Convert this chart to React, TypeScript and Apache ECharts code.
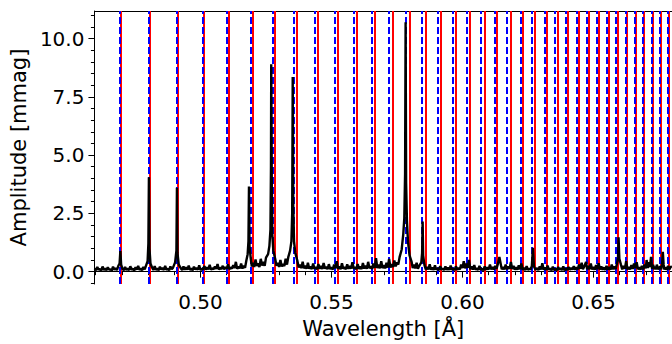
import React, { useEffect, useRef } from "react";
import * as echarts from "echarts";

// Red solid reference lines (wavelength, Å)
const redLines = [
  0.4694, 0.4805, 0.4913, 0.5011, 0.5107, 0.52, 0.5285, 0.5368, 0.5446, 0.5523,
  0.5596, 0.5665, 0.5732, 0.5797, 0.5859, 0.5919, 0.5974, 0.6029, 0.6084, 0.6132,
  0.6183, 0.623, 0.6275, 0.632, 0.6363, 0.6403, 0.6445, 0.6484, 0.6522, 0.6559,
  0.6594, 0.6629, 0.6662, 0.6693, 0.6725, 0.6757, 0.6787,
];

// Blue dashed reference lines (wavelength, Å)
const blueLines = [
  0.4693, 0.4804, 0.491, 0.5007, 0.51, 0.519, 0.5276, 0.5357, 0.5436, 0.5512,
  0.5584, 0.5653, 0.5719, 0.5784, 0.5846, 0.5906, 0.5962, 0.6016, 0.6071, 0.6122,
  0.617, 0.6221, 0.6266, 0.6313, 0.6354, 0.6396, 0.6437, 0.6476, 0.6514, 0.6551,
  0.6587, 0.6624, 0.6656, 0.6689, 0.6721, 0.6754, 0.6784,
];

// Amplitude spectrum: [wavelength Å, amplitude mmag]
const spectrum: [number, number][] = [
  [0.4596, 0.14], [0.4601, 0.06], [0.4606, 0.2], [0.4611, 0.08], [0.4616, 0.11], [0.4621, 0.05], [0.4626, 0.22], [0.4631, 0.07], [0.4636, 0.13],
  [0.4641, 0.06], [0.4646, 0.19], [0.4651, 0.09], [0.4656, 0.1], [0.4661, 0.05], [0.4666, 0.21], [0.4671, 0.08], [0.4676, 0.15], [0.4681, 0.07], [0.4686, 0.24],
  [0.4691, 0.35], [0.4694, 0.88], [0.4697, 0.3], [0.4702, 0.12], [0.4707, 0.06], [0.4712, 0.2], [0.4717, 0.07],
  [0.4722, 0.14], [0.4727, 0.06], [0.4732, 0.23], [0.4737, 0.08], [0.4742, 0.12], [0.4747, 0.05], [0.4752, 0.19], [0.4757, 0.09], [0.4762, 0.25],
  [0.4767, 0.07], [0.4772, 0.13], [0.4777, 0.06], [0.4782, 0.2], [0.4787, 0.1], [0.4792, 0.26], [0.4798, 0.45], [0.4801, 1.2],
  [0.4803, 4.05], [0.4805, 1.0], [0.4809, 0.35], [0.4815, 0.18], [0.482, 0.07], [0.4825, 0.24],
  [0.483, 0.08], [0.4835, 0.13], [0.484, 0.06], [0.4845, 0.21], [0.485, 0.09], [0.4855, 0.16], [0.486, 0.07], [0.4865, 0.25], [0.487, 0.08], [0.4875, 0.12],
  [0.488, 0.06], [0.4885, 0.22], [0.489, 0.1], [0.4895, 0.17], [0.4903, 0.4], [0.4908, 0.9], [0.491, 3.6],
  [0.4912, 0.8], [0.4917, 0.3], [0.4925, 0.14], [0.493, 0.07], [0.4935, 0.22], [0.494, 0.08], [0.4945, 0.18],
  [0.495, 0.09], [0.4955, 0.26], [0.496, 0.07], [0.4965, 0.13], [0.497, 0.06], [0.4975, 0.21], [0.498, 0.09], [0.4985, 0.16], [0.499, 0.08], [0.4995, 0.27],
  [0.5, 0.07], [0.5005, 0.12], [0.501, 0.1], [0.5015, 0.24], [0.502, 0.09], [0.5025, 0.18], [0.503, 0.1], [0.5035, 0.29], [0.504, 0.08], [0.5045, 0.15],
  [0.505, 0.1], [0.5055, 0.22], [0.506, 0.12], [0.5065, 0.33], [0.507, 0.09], [0.5075, 0.17], [0.508, 0.11], [0.5085, 0.25], [0.509, 0.1], [0.5095, 0.2],
  [0.51, 0.12], [0.5105, 0.31], [0.511, 0.1], [0.5115, 0.18], [0.512, 0.13], [0.5125, 0.28], [0.513, 0.15], [0.5135, 0.42], [0.514, 0.12], [0.5145, 0.22],
  [0.515, 0.14], [0.5155, 0.35], [0.516, 0.13], [0.5165, 0.25], [0.517, 0.16], [0.5175, 0.48], [0.518, 0.75], [0.5183, 1.3],
  [0.5185, 3.65], [0.5187, 1.1], [0.5192, 0.55], [0.5196, 0.22], [0.52, 0.38], [0.5205, 0.2], [0.521, 0.52],
  [0.5215, 0.24], [0.522, 0.35], [0.5225, 0.2], [0.523, 0.55], [0.5235, 0.26], [0.524, 0.42], [0.5245, 0.25], [0.525, 0.6], [0.5258, 0.75],
  [0.5263, 1.1], [0.5267, 1.8], [0.5269, 4.5], [0.527, 8.9], [0.5272, 4.0],
  [0.5274, 1.6], [0.5278, 0.9], [0.5285, 0.55], [0.529, 0.25], [0.5295, 0.38], [0.53, 0.2], [0.5305, 0.5],
  [0.531, 0.22], [0.5315, 0.33], [0.532, 0.24], [0.5325, 0.55], [0.533, 0.3], [0.5335, 0.62], [0.5342, 0.9], [0.5347, 1.3],
  [0.535, 2.5], [0.5352, 8.35], [0.5354, 2.8], [0.5357, 1.3], [0.5362, 0.8],
  [0.537, 0.45], [0.5375, 0.18], [0.538, 0.3], [0.5385, 0.15], [0.539, 0.42], [0.5395, 0.14], [0.54, 0.25], [0.5405, 0.12], [0.541, 0.38],
  [0.5415, 0.13], [0.542, 0.22], [0.5425, 0.11], [0.543, 0.35], [0.5435, 0.12], [0.544, 0.2], [0.5445, 0.1], [0.545, 0.33], [0.5455, 0.12], [0.546, 0.24],
  [0.5465, 0.11], [0.547, 0.37], [0.5475, 0.13], [0.548, 0.21], [0.5485, 0.1], [0.549, 0.32], [0.5495, 0.11], [0.55, 0.18], [0.5505, 0.09], [0.551, 0.3],
  [0.5515, 0.14], [0.552, 0.45], [0.5525, 0.12], [0.553, 0.22], [0.5535, 0.1], [0.554, 0.36], [0.5545, 0.12], [0.555, 0.19], [0.5555, 0.1], [0.556, 0.31],
  [0.5565, 0.12], [0.557, 0.24], [0.5575, 0.13], [0.558, 0.4], [0.5585, 0.12], [0.559, 0.2], [0.5595, 0.1], [0.56, 0.33], [0.5605, 0.12], [0.561, 0.22],
  [0.5615, 0.11], [0.562, 0.37], [0.5625, 0.13], [0.563, 0.25], [0.5635, 0.12], [0.564, 0.42], [0.5645, 0.14], [0.565, 0.23], [0.5655, 0.12], [0.566, 0.35],
  [0.5665, 0.16], [0.567, 0.58], [0.5675, 0.15], [0.568, 0.3], [0.5685, 0.14], [0.569, 0.45], [0.5695, 0.15], [0.57, 0.27], [0.5705, 0.14], [0.571, 0.38],
  [0.5715, 0.17], [0.572, 0.55], [0.5725, 0.18], [0.573, 0.32], [0.5735, 0.2], [0.574, 0.48], [0.5745, 0.22], [0.575, 0.4], [0.5755, 0.3], [0.576, 0.62],
  [0.5768, 0.95], [0.5774, 1.6], [0.5778, 2.3], [0.5781, 4.2], [0.5783, 10.7],
  [0.5785, 3.8], [0.5788, 2.2], [0.5792, 1.3], [0.5798, 0.7], [0.5806, 0.42],
  [0.581, 0.15], [0.5815, 0.3], [0.582, 0.14], [0.5825, 0.38], [0.583, 0.12], [0.5835, 0.25], [0.5843, 0.4], [0.5846, 0.8],
  [0.5848, 2.15], [0.585, 0.7], [0.5855, 0.28], [0.586, 0.1], [0.5865, 0.2], [0.587, 0.09], [0.5875, 0.32],
  [0.588, 0.08], [0.5885, 0.18], [0.589, 0.07], [0.5895, 0.27], [0.59, 0.08], [0.5905, 0.15], [0.591, 0.06], [0.5915, 0.24], [0.592, 0.09], [0.5925, 0.13],
  [0.593, 0.07], [0.5935, 0.22], [0.594, 0.08], [0.5945, 0.17], [0.595, 0.07], [0.5955, 0.26], [0.596, 0.08], [0.5965, 0.14], [0.597, 0.06], [0.5975, 0.23],
  [0.598, 0.08], [0.5985, 0.16], [0.599, 0.1], [0.5995, 0.3], [0.6, 0.15], [0.6005, 0.45], [0.601, 0.14], [0.6015, 0.35], [0.602, 0.16], [0.6025, 0.5],
  [0.603, 0.1], [0.6035, 0.22], [0.604, 0.09], [0.6045, 0.28], [0.605, 0.08], [0.6055, 0.15], [0.606, 0.07], [0.6065, 0.25], [0.607, 0.08], [0.6075, 0.12],
  [0.608, 0.06], [0.6085, 0.22], [0.609, 0.08], [0.6095, 0.18], [0.61, 0.09], [0.6105, 0.3], [0.611, 0.1], [0.6115, 0.2], [0.612, 0.09], [0.6125, 0.25],
  [0.613, 0.12], [0.6135, 0.32], [0.6141, 0.63], [0.6147, 0.28], [0.615, 0.1], [0.6155, 0.2], [0.616, 0.09], [0.6165, 0.3],
  [0.617, 0.1], [0.6175, 0.22], [0.618, 0.12], [0.6185, 0.42], [0.619, 0.11], [0.6195, 0.25], [0.62, 0.09], [0.6205, 0.18], [0.621, 0.08], [0.6215, 0.27],
  [0.622, 0.1], [0.6225, 0.35], [0.623, 0.08], [0.6235, 0.16], [0.624, 0.07], [0.6245, 0.24], [0.625, 0.08], [0.6255, 0.13], [0.626, 0.09], [0.6265, 0.25],
  [0.6269, 1.02], [0.6273, 0.22], [0.6279, 0.08], [0.6285, 0.15], [0.629, 0.07], [0.6295, 0.23], [0.63, 0.09], [0.6305, 0.36],
  [0.631, 0.08], [0.6315, 0.18], [0.632, 0.07], [0.6325, 0.26], [0.633, 0.08], [0.6335, 0.14], [0.634, 0.06], [0.6345, 0.21], [0.635, 0.07], [0.6355, 0.12],
  [0.636, 0.06], [0.6365, 0.2], [0.637, 0.08], [0.6375, 0.15], [0.638, 0.07], [0.6385, 0.22], [0.639, 0.06], [0.6395, 0.13], [0.64, 0.07], [0.6405, 0.2],
  [0.641, 0.08], [0.6415, 0.16], [0.642, 0.09], [0.6425, 0.24], [0.643, 0.08], [0.6435, 0.18], [0.644, 0.1], [0.6445, 0.3], [0.645, 0.12], [0.6455, 0.38],
  [0.646, 0.1], [0.6465, 0.22], [0.6472, 0.42], [0.6476, 0.1], [0.648, 0.25], [0.6485, 0.1], [0.649, 0.35], [0.6495, 0.09], [0.65, 0.2],
  [0.6505, 0.08], [0.651, 0.28], [0.6515, 0.1], [0.652, 0.36], [0.6525, 0.09], [0.653, 0.22], [0.6535, 0.08], [0.654, 0.18], [0.6545, 0.07], [0.655, 0.25],
  [0.6555, 0.09], [0.656, 0.2], [0.6565, 0.08], [0.657, 0.3], [0.6575, 0.1], [0.658, 0.22], [0.6585, 0.11], [0.659, 0.35], [0.6594, 0.6],
  [0.6596, 1.47], [0.6599, 0.55], [0.6605, 0.3], [0.661, 0.1], [0.6615, 0.25], [0.662, 0.12], [0.6625, 0.45],
  [0.663, 0.09], [0.6635, 0.2], [0.664, 0.1], [0.6645, 0.28], [0.665, 0.12], [0.6655, 0.35], [0.666, 0.15], [0.6665, 0.4], [0.667, 0.1], [0.6675, 0.18],
  [0.668, 0.09], [0.6685, 0.25], [0.669, 0.1], [0.6695, 0.3], [0.67, 0.14], [0.6703, 0.5], [0.6708, 0.15], [0.6712, 0.4], [0.6716, 0.2], [0.672, 0.63],
  [0.6724, 0.12], [0.6728, 0.3], [0.6732, 0.1], [0.6735, 0.22], [0.6739, 0.1], [0.6742, 0.3], [0.6748, 0.1], [0.6755, 0.22], [0.6759, 0.1], [0.6762, 0.3],
  [0.6765, 0.85], [0.6768, 0.3], [0.6771, 0.09], [0.6775, 0.18], [0.678, 0.08], [0.6785, 0.25], [0.679, 0.1], [0.6795, 0.2],
  [0.68, 0.22],
];

const xMajorTicks = [0.5, 0.55, 0.6, 0.65];
const xMinorTicks = [
  0.46, 0.47, 0.48, 0.49, 0.5, 0.51, 0.52, 0.53, 0.54, 0.55, 0.56, 0.57,
  0.58, 0.59, 0.6, 0.61, 0.62, 0.63, 0.64, 0.65, 0.66, 0.67, 0.68,
];
const yMajorTicks = [0, 2.5, 5, 7.5, 10];
const yMinorTicks = [
  -0.5, 0, 0.5, 1, 1.5, 2, 2.5, 3, 3.5, 4, 4.5, 5, 5.5, 6, 6.5, 7, 7.5, 8,
  8.5, 9, 9.5, 10, 10.5, 11,
];

const X_MIN = 0.4595;
const X_MAX = 0.68;
const Y_MIN = -0.53;
const Y_MAX = 11.18;

const FONT = "DejaVu Sans";

export default function App() {
  const ref = useRef<HTMLDivElement>(null);

  useEffect(() => {
    document.body.style.margin = "0";
    if (!ref.current) return;
    const chart = echarts.init(ref.current, undefined, { renderer: "svg" });

    const baseX = {
      type: "value" as const,
      min: X_MIN,
      max: X_MAX,
      splitLine: { show: false },
    };
    const baseY = {
      type: "value" as const,
      min: Y_MIN,
      max: Y_MAX,
      splitLine: { show: false },
    };

    chart.setOption({
      animation: false,
      grid: { left: 93, right: 0, top: 11, bottom: 60, containLabel: false },
      xAxis: [
        {
          ...baseX,
          position: "bottom",
          name: "Wavelength [Å]",
          nameLocation: "middle",
          nameGap: 34,
          nameTextStyle: { fontFamily: FONT, fontSize: 21, color: "#000" },
          axisLine: { show: true, lineStyle: { color: "#000", width: 1 } },
          axisTick: {
            show: true,
            length: 6,
            lineStyle: { color: "#000", width: 1 },
            customValues: xMajorTicks,
          },
          axisLabel: {
            show: true,
            margin: 8,
            fontFamily: FONT,
            fontSize: 20,
            color: "#000",
            customValues: xMajorTicks,
            formatter: (v: number) => v.toFixed(2),
          },
        },
        {
          ...baseX,
          position: "bottom",
          axisLine: { show: false },
          axisTick: {
            show: true,
            length: 3.5,
            lineStyle: { color: "#000", width: 1 },
            customValues: xMinorTicks,
          },
          axisLabel: { show: false },
        },
        {
          ...baseX,
          position: "top",
          axisLine: { show: true, lineStyle: { color: "#000", width: 1 } },
          axisTick: { show: false },
          axisLabel: { show: false },
        },
      ],
      yAxis: [
        {
          ...baseY,
          position: "left",
          name: "Amplitude [mmag]",
          nameLocation: "middle",
          nameRotate: 90,
          nameGap: 62,
          nameTextStyle: { fontFamily: FONT, fontSize: 21, color: "#000" },
          axisLine: { show: true, lineStyle: { color: "#000", width: 1 } },
          axisTick: {
            show: true,
            length: 6,
            lineStyle: { color: "#000", width: 1 },
            customValues: yMajorTicks,
          },
          axisLabel: {
            show: true,
            margin: 10,
            fontFamily: FONT,
            fontSize: 20,
            color: "#000",
            customValues: yMajorTicks,
            formatter: (v: number) => v.toFixed(1),
          },
        },
        {
          ...baseY,
          position: "left",
          axisLine: { show: false },
          axisTick: {
            show: true,
            length: 3.5,
            lineStyle: { color: "#000", width: 1 },
            customValues: yMinorTicks,
          },
          axisLabel: { show: false },
        },
      ],
      series: [
        {
          name: "red",
          type: "lines",
          coordinateSystem: "cartesian2d",
          xAxisIndex: 0,
          yAxisIndex: 0,
          silent: true,
          z: 1,
          polyline: false,
          lineStyle: { color: "#ff0000", width: 2, type: "solid", opacity: 1 },
          data: redLines.map((v) => ({ coords: [[v, Y_MIN], [v, Y_MAX]] })),
        },
        {
          name: "blue",
          type: "lines",
          coordinateSystem: "cartesian2d",
          xAxisIndex: 0,
          yAxisIndex: 0,
          silent: true,
          z: 2,
          polyline: false,
          lineStyle: { color: "#0000ff", width: 2, type: [7, 3], opacity: 1 },
          data: blueLines.map((v) => ({ coords: [[v, Y_MIN], [v, Y_MAX]] })),
        },
        {
          name: "spectrum",
          type: "line",
          data: spectrum,
          xAxisIndex: 0,
          yAxisIndex: 0,
          showSymbol: false,
          symbol: "none",
          silent: true,
          z: 10,
          lineStyle: { color: "#000", width: 2.4 },
        },
      ],
    });

    return () => chart.dispose();
  }, []);

  return <div ref={ref} style={{ width: 672, height: 344 }} />;
}
